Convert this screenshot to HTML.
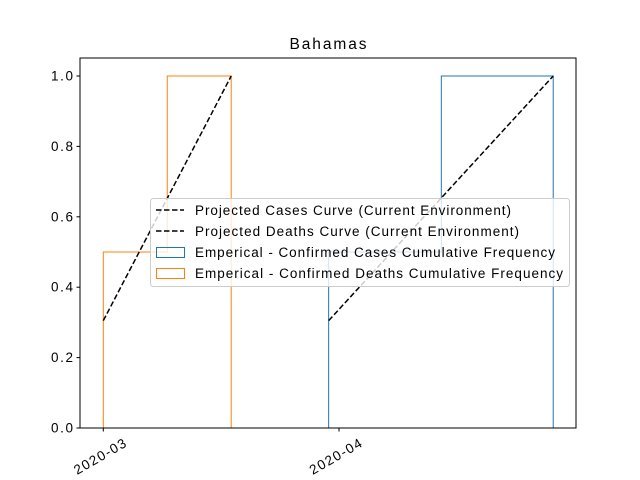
<!DOCTYPE html>
<html><head><meta charset="utf-8"><style>
body{margin:0;background:#fff;}
svg{display:block;font-family:"Liberation Sans",sans-serif;}
</style></head><body>
<svg id="chart" width="640" height="480">
<rect width="640" height="480" fill="#fff"/>
<text x="328" y="49" text-anchor="middle" font-size="15.5" textLength="77">Bahamas</text>
<g id="marks"></g>
<g id="axes"></g>
<g>
<rect x="150.5" y="198.5" width="419" height="88" rx="3" fill="#fff" fill-opacity="0.8" stroke="#ccc"/>
<line x1="156" x2="184" y1="210" y2="210" stroke="#000" stroke-width="1.5" stroke-dasharray="5.5,2.5"/>
<text x="195" y="215" font-size="13.5" textLength="316">Projected Cases Curve (Current Environment)</text>
<line x1="156" x2="184" y1="231" y2="231" stroke="#000" stroke-width="1.5" stroke-dasharray="5.5,2.5"/>
<text x="195" y="236" font-size="13.5" textLength="324">Projected Deaths Curve (Current Environment)</text>
<rect x="156.5" y="247.5" width="28" height="10" fill="none" stroke="#1f77b4"/>
<text x="195" y="257" font-size="13.5" textLength="360">Emperical - Confirmed Cases Cumulative Frequency</text>
<rect x="156.5" y="268.5" width="28" height="10" fill="none" stroke="#ff7f0e"/>
<text x="195" y="278" font-size="13.5" textLength="368">Emperical - Confirmed Deaths Cumulative Frequency</text>
</g>
</svg>
<script>
// x in days since 2020-03-01
const deathBinEdges = [0, 8.4, 16.8];
const deathValues = [0.5, 1.0];
const caseBinEdges = [29.6, 44.4, 59.1];
const caseValues = [0.5, 1.0];
const deathCurveX = [0, 16.8];
const deathCurveY = [0.305, 1.0];
const caseCurveX = [29.6, 59.1];
const caseCurveY = [0.305, 1.0];
const yTicks = [0, 0.2, 0.4, 0.6, 0.8, 1.0];
const yTickLabels = ["0.0","0.2","0.4","0.6","0.8","1.0"];
const xTicks = [0, 31];
const xTickLabels = ["2020-03","2020-04"];

const L=80, R=576, T=58, B=428;
const xs = d => 103.3 + d * (236/31);
const ys = v => 428 - v * 352;
const NS="http://www.w3.org/2000/svg";
const marks=document.getElementById('marks'), axes=document.getElementById('axes');
function mk(tag, attrs, parent){const e=document.createElementNS(NS,tag);for(const k in attrs)e.setAttribute(k,attrs[k]);parent.appendChild(e);return e;}

function stepPath(edges, vals){
  let d=`M${xs(edges[0])},${ys(0)}`;
  for(let i=0;i<vals.length;i++){d+=` L${xs(edges[i])},${ys(vals[i])} L${xs(edges[i+1])},${ys(vals[i])}`;}
  d+=` L${xs(edges[edges.length-1])},${ys(0)}`;
  return d;
}
let p=mk('path',{d:stepPath(deathBinEdges,deathValues),fill:'none',stroke:'#ff7f0e','stroke-width':1},marks);


p=mk('path',{d:stepPath(caseBinEdges,caseValues),fill:'none',stroke:'#1f77b4','stroke-width':1},marks);


function line(xa,ya){return xa.map((x,i)=>`${i?'L':'M'}${xs(x)},${ys(ya[i])}`).join(' ');}
p=mk('path',{d:line(deathCurveX,deathCurveY),fill:'none',stroke:'#000','stroke-width':1.5,'stroke-dasharray':'5.5,2.5'},marks);


p=mk('path',{d:line(caseCurveX,caseCurveY),fill:'none',stroke:'#000','stroke-width':1.5,'stroke-dasharray':'5.5,2.5'},marks);



let f=mk('rect',{x:L,y:T,width:R-L,height:B-T,fill:'none',stroke:'#000','stroke-width':1},axes);


yTicks.forEach((v,i)=>{
  const y=ys(v);
  let t=mk('line',{x1:L-3.5,x2:L,y1:y,y2:y,stroke:'#000'},axes);
  
  
  let tx=mk('text',{x:L-7,y:y+4.5,'text-anchor':'end','font-size':13.5,textLength:22},axes);
  tx.textContent=yTickLabels[i];
  
  
});
xTicks.forEach((d,i)=>{
  const x=xs(d)+(i?-0.3:0);
  let t=mk('line',{x1:x,x2:x,y1:B,y2:B+3.5,stroke:'#000'},axes);
  
  
  const ax=x+24, ay=B+18;
  let tx=mk('text',{x:ax,y:ay,'text-anchor':'end','font-size':13.5,textLength:58,transform:`rotate(-30 ${ax} ${ay})`},axes);
  tx.textContent=xTickLabels[i];
  
  
});
</script>
</body></html>
